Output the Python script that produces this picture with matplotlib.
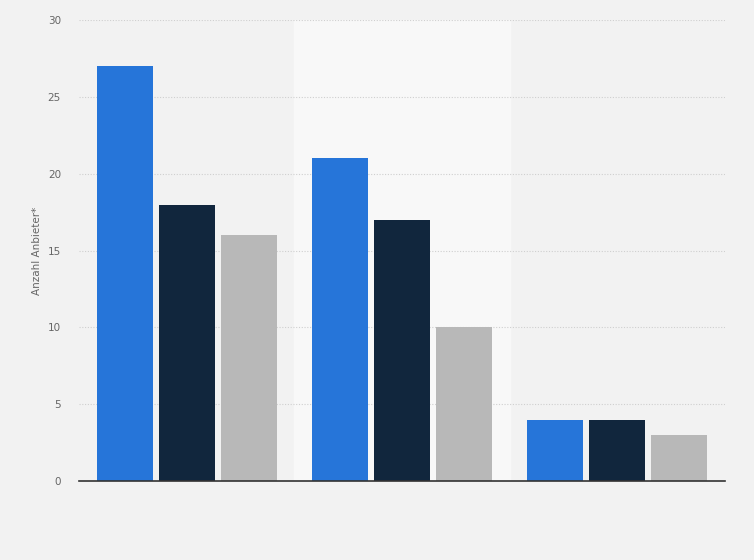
import numpy as np
import matplotlib.pyplot as plt

groups = ["Gruppe 1", "Gruppe 2", "Gruppe 3"]
serie_a = [27, 21, 4]
serie_b = [18, 17, 4]
serie_c = [16, 10, 3]
farben = ["#2675d9", "#11263d", "#b8b8b8"]

fig = plt.figure(figsize=(7.54, 5.60), dpi=100)
fig.patch.set_facecolor("#f2f2f2")
ax = fig.add_axes([0.1048, 0.141, 0.8567, 0.823])
ax.set_facecolor("#f2f2f2")

x = np.arange(len(groups))
breite = 0.26
abstand = 0.288

# helles Band hinter der mittleren Gruppe
ax.axvspan(0.5, 1.5, color="#f8f8f8", zorder=0)

for i, (werte, farbe) in enumerate(zip([serie_a, serie_b, serie_c], farben)):
    ax.bar(x + (i - 1) * abstand, werte, breite, color=farbe, zorder=3)

ax.set_xlim(-0.5, 2.5)
ax.set_ylim(0, 30)
ax.set_yticks([0, 5, 10, 15, 20, 25, 30])
ax.set_xticks([])
ax.yaxis.grid(True, linestyle=(0, (1, 1.5)), color="#cfcfcf", linewidth=0.8, zorder=1)
for s in ["top", "right", "left"]:
    ax.spines[s].set_visible(False)
ax.spines["bottom"].set_color("#333333")
ax.spines["bottom"].set_linewidth(1.2)
ax.spines["bottom"].set_zorder(4)
ax.tick_params(axis="y", length=0, labelsize=7.5, labelcolor="#666666", pad=13)
ax.set_ylabel("Anzahl Anbieter*", fontsize=7.5, color="#666666", labelpad=4)

fig.savefig("out.png", dpi=100, facecolor=fig.get_facecolor())
